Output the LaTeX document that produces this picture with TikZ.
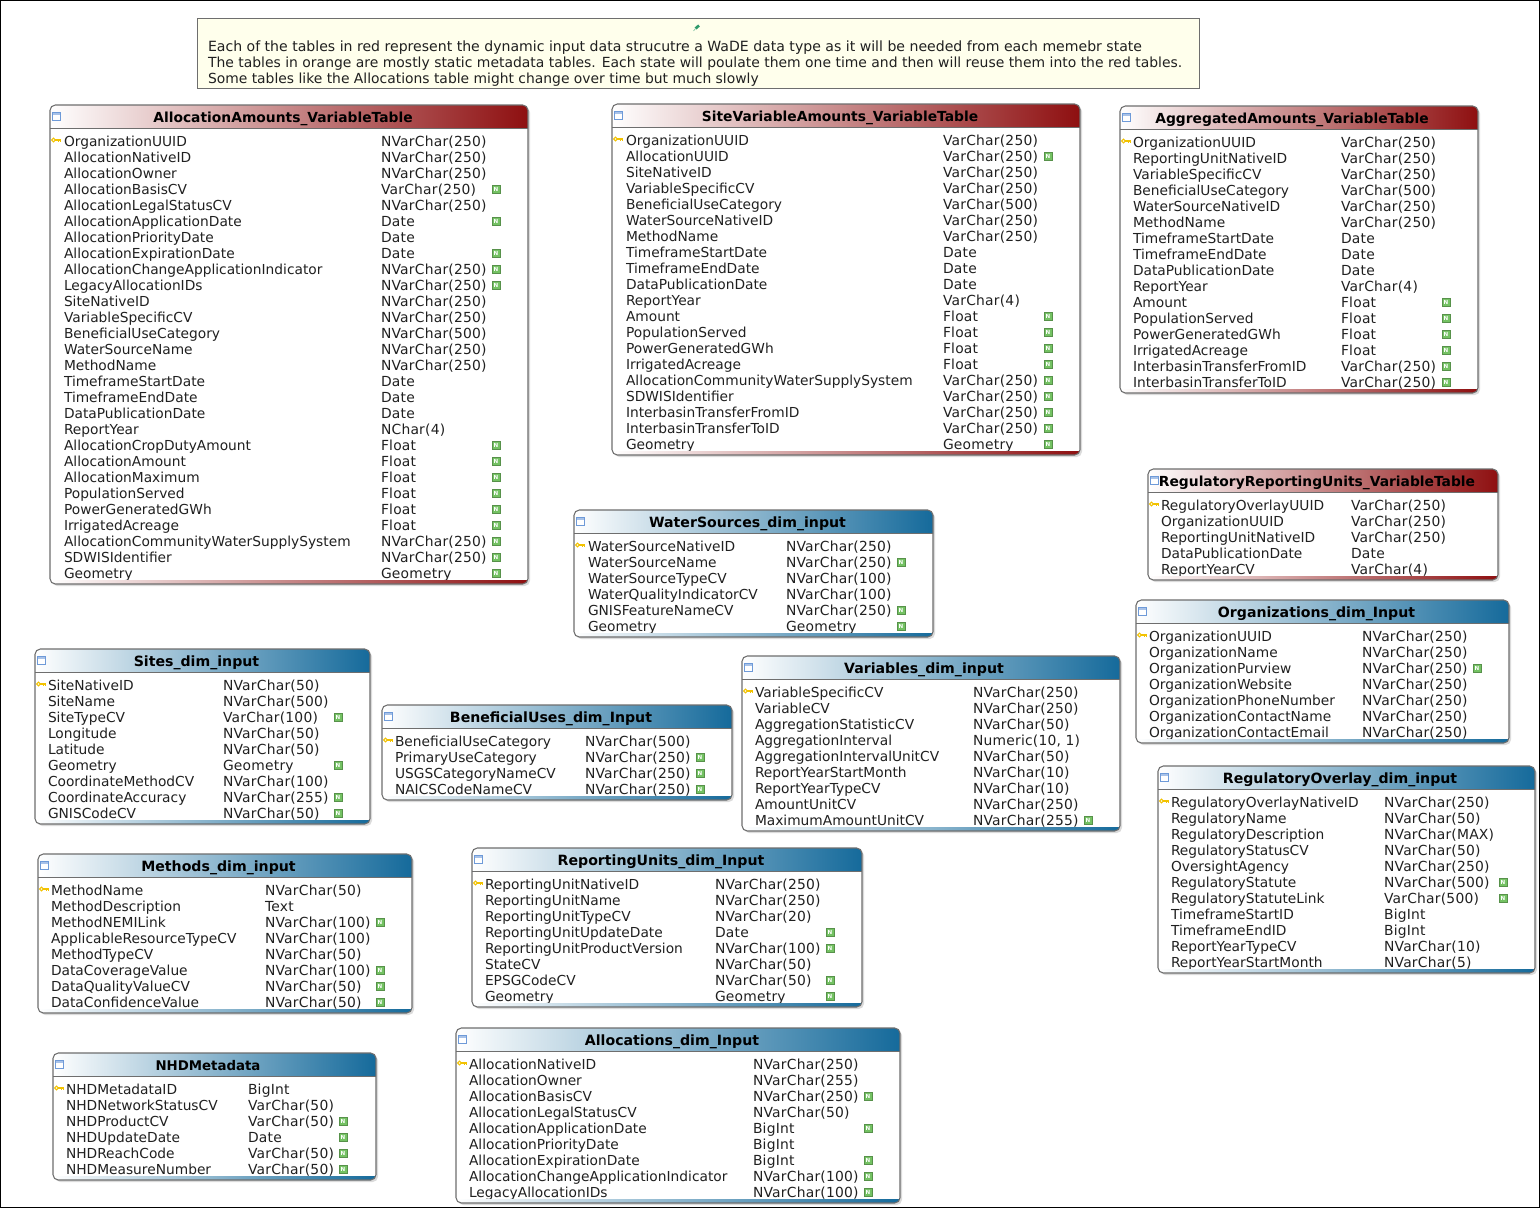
\documentclass[tikz,border=0pt]{standalone}
\usepackage{fontspec}
\setmainfont{DejaVu Sans}
\newfontfamily\typefont[LetterSpace=1.6]{DejaVu Sans}
\definecolor{redend}{HTML}{8E0F10}
\definecolor{blueend}{HTML}{156A9B}
\definecolor{edgegray}{HTML}{6E6E6E}
\definecolor{notefill}{HTML}{FFFFEC}
\definecolor{nullgreen}{HTML}{74C263}
\definecolor{keyyellow}{HTML}{F2C200}
\definecolor{iconblue}{HTML}{6E9AD8}
\definecolor{rowtext}{HTML}{202020}
\definecolor{pingreen}{HTML}{2E9A6A}
\newcommand{\bluesize}{\fontsize{10.6pt}{12pt}\selectfont\bfseries}
\tikzset{
  rowlabel/.style={anchor=base west,inner sep=0pt,outer sep=0pt,font=\fontsize{10.33pt}{12pt}\selectfont,text=rowtext},
  typelabel/.style={anchor=base west,inner sep=0pt,outer sep=0pt,font=\fontsize{10.4pt}{12pt}\selectfont\typefont,text=rowtext},
  titlelabel/.style={anchor=base,inner sep=0pt,outer sep=0pt,font=\fontsize{10.38pt}{12pt}\selectfont\bfseries,text=black},
  nulltag/.style={fill=nullgreen,draw=nullgreen!75!black,line width=.3pt,minimum size=5.6pt,inner sep=0pt,text=white,font=\fontsize{4.2pt}{4.5pt}\selectfont\bfseries},
  noteline/.style={anchor=base west,inner sep=0pt,outer sep=0pt,text=rowtext},
  tableedge/.style={draw=edgegray,line width=.8pt,rounded corners=4pt},
  tableshadow/.style={fill=black!14,rounded corners=4pt},
}
\def\parsebox#1/#2/#3/#4\relax{\def\xa{#1}\def\ya{#2}\def\xb{#3}\def\yb{#4}}
\def\parsecol#1/#2/#3\relax{\def\cola{#1}\def\colb{#2}\def\colc{#3}}
% \dbtable{id}{x0/y0/x1/y1}{col1/col2/icon}{end colour}{title}{title x}{rows}
\newcommand{\dbtable}[7]{%
  \parsebox#2\relax\parsecol#3\relax
  \fill[tableshadow] (\xa+2,\ya+2) rectangle (\xb+2,\yb+2);
  \begin{scope}
    \clip[rounded corners=4pt] (\xa,\ya) rectangle (\xb,\yb);
    \fill[white] (\xa,\ya) rectangle (\xb,\yb);
    \shade[left color=white,right color=#4] (\xa,\ya) rectangle (\xb,\ya+23);
    \draw[edgegray,line width=.6pt] (\xa,\ya+23) -- (\xb,\ya+23);
    \foreach \n/\t/\f [count=\i] in {#7} {
      \pgfmathsetmacro{\yy}{\ya+41+16*(\i-1)}
      \node[rowlabel] (#1-\i-n) at (\cola,\yy) {\n};
      \node[typelabel] (#1-\i-t) at (\colb,\yy) {\t};
      \ifnum\f=1 \node[nulltag] (#1-\i-f) at (\colc,\yy-5) {N};\fi
    }
    \shade[left color=white,right color=#4] (\xa,\yb-4) rectangle (\xb,\yb);
  \end{scope}
  \draw[tableedge] (\xa,\ya) rectangle (\xb,\yb);
  \fill[white] (\xa+2.5,\ya+7) rectangle (\xa+10,\ya+15);
  \fill[iconblue!60] (\xa+2.5,\ya+7) rectangle (\xa+10,\ya+10);
  \draw[iconblue,line width=.5pt] (\xa+2.5,\ya+7) rectangle (\xa+10,\ya+15);
  \draw[keyyellow,line width=.8pt] (\xa+3.5,\ya+35) circle (1.8);
  \draw[keyyellow,line width=.9pt] (\xa+5,\ya+35) -- (\xa+10.5,\ya+35);
  \draw[keyyellow,line width=.7pt] (\xa+8,\ya+35) -- (\xa+8,\ya+37) (\xa+10,\ya+35) -- (\xa+10,\ya+37);
  \node[titlelabel] (#1-title) at (#6,\ya+17) {#5};
}
\begin{document}
\begin{tikzpicture}[x=0.75pt,y=-0.75pt]
\useasboundingbox (0,0) rectangle (1540,1208);
\fill[white] (0,0) rectangle (1540,1208);
\draw[black,line width=.8pt] (.5,.5) rectangle (1539.5,1207.5);
% note
\node[draw=edgegray,line width=.8pt,fill=notefill,minimum width=751.5pt,minimum height=52.5pt,inner sep=0pt,anchor=north west] (note) at (197,18) {};
\draw[pingreen,line width=2pt] (695.5,28.5) -- (699,25.5);
\draw[pingreen!60,line width=.5pt] (695.5,28.5) -- (693.5,31);
\node[noteline,font=\fontsize{10.56pt}{12pt}\selectfont] (note1) at (208,51) {Each of the tables in red represent the dynamic input data strucutre a WaDE data type as it will be needed from each memebr state};
\node[noteline,font=\fontsize{10.45pt}{12pt}\selectfont] (note2) at (208,67) {The tables in orange are mostly static metadata tables. Each state will poulate them one time and then will reuse them into the red tables.};
\node[noteline,font=\fontsize{10.41pt}{12pt}\selectfont] (note3) at (208,83) {Some tables like the Allocations table might change over time but much slowly};

\dbtable{aa}{50/105/528/584}{64/381/496}{redend}{AllocationAmounts\_VariableTable}{283}{
OrganizationUUID/NVarChar(250)/0,
AllocationNativeID/NVarChar(250)/0,
AllocationOwner/NVarChar(250)/0,
AllocationBasisCV/VarChar(250)/1,
AllocationLegalStatusCV/NVarChar(250)/0,
AllocationApplicationDate/Date/1,
AllocationPriorityDate/Date/0,
AllocationExpirationDate/Date/1,
AllocationChangeApplicationIndicator/NVarChar(250)/1,
LegacyAllocationIDs/NVarChar(250)/1,
SiteNativeID/NVarChar(250)/0,
VariableSpecificCV/NVarChar(250)/0,
BeneficialUseCategory/NVarChar(500)/0,
WaterSourceName/NVarChar(250)/0,
MethodName/NVarChar(250)/0,
TimeframeStartDate/Date/0,
TimeframeEndDate/Date/0,
DataPublicationDate/Date/0,
ReportYear/NChar(4)/0,
AllocationCropDutyAmount/Float/1,
AllocationAmount/Float/1,
AllocationMaximum/Float/1,
PopulationServed/Float/1,
PowerGeneratedGWh/Float/1,
IrrigatedAcreage/Float/1,
AllocationCommunityWaterSupplySystem/NVarChar(250)/1,
SDWISIdentifier/NVarChar(250)/1,
Geometry/Geometry/1}

\dbtable{sv}{612/104/1080/455}{626/943/1048}{redend}{SiteVariableAmounts\_VariableTable}{840}{
OrganizationUUID/VarChar(250)/0,
AllocationUUID/VarChar(250)/1,
SiteNativeID/VarChar(250)/0,
VariableSpecificCV/VarChar(250)/0,
BeneficialUseCategory/VarChar(500)/0,
WaterSourceNativeID/VarChar(250)/0,
MethodName/VarChar(250)/0,
TimeframeStartDate/Date/0,
TimeframeEndDate/Date/0,
DataPublicationDate/Date/0,
ReportYear/VarChar(4)/0,
Amount/Float/1,
PopulationServed/Float/1,
PowerGeneratedGWh/Float/1,
IrrigatedAcreage/Float/1,
AllocationCommunityWaterSupplySystem/VarChar(250)/1,
SDWISIdentifier/VarChar(250)/1,
InterbasinTransferFromID/VarChar(250)/1,
InterbasinTransferToID/VarChar(250)/1,
Geometry/Geometry/1}

\dbtable{ag}{1120/106/1478/393}{1133/1341/1446}{redend}{AggregatedAmounts\_VariableTable}{1292}{
OrganizationUUID/VarChar(250)/0,
ReportingUnitNativeID/VarChar(250)/0,
VariableSpecificCV/VarChar(250)/0,
BeneficialUseCategory/VarChar(500)/0,
WaterSourceNativeID/VarChar(250)/0,
MethodName/VarChar(250)/0,
TimeframeStartDate/Date/0,
TimeframeEndDate/Date/0,
DataPublicationDate/Date/0,
ReportYear/VarChar(4)/0,
Amount/Float/1,
PopulationServed/Float/1,
PowerGeneratedGWh/Float/1,
IrrigatedAcreage/Float/1,
InterbasinTransferFromID/VarChar(250)/1,
InterbasinTransferToID/VarChar(250)/1}

\dbtable{rr}{1148/469/1498/580}{1161/1351/1466}{redend}{RegulatoryReportingUnits\_VariableTable}{1317}{
RegulatoryOverlayUUID/VarChar(250)/0,
OrganizationUUID/VarChar(250)/0,
ReportingUnitNativeID/VarChar(250)/0,
DataPublicationDate/Date/0,
ReportYearCV/VarChar(4)/0}

\dbtable{ws}{574/510/933/637}{588/786/901}{blueend}{\bluesize WaterSources\_dim\_input}{747.5}{
WaterSourceNativeID/NVarChar(250)/0,
WaterSourceName/NVarChar(250)/1,
WaterSourceTypeCV/NVarChar(100)/0,
WaterQualityIndicatorCV/NVarChar(100)/0,
GNISFeatureNameCV/NVarChar(250)/1,
Geometry/Geometry/1}

\dbtable{or}{1136/600/1509/743}{1149/1362/1477}{blueend}{\bluesize Organizations\_dim\_Input}{1316.5}{
OrganizationUUID/NVarChar(250)/0,
OrganizationName/NVarChar(250)/0,
OrganizationPurview/NVarChar(250)/1,
OrganizationWebsite/NVarChar(250)/0,
OrganizationPhoneNumber/NVarChar(250)/0,
OrganizationContactName/NVarChar(250)/0,
OrganizationContactEmail/NVarChar(250)/0}

\dbtable{si}{35/649/370/824}{48/223/338}{blueend}{\bluesize Sites\_dim\_input}{196.5}{
SiteNativeID/NVarChar(50)/0,
SiteName/NVarChar(500)/0,
SiteTypeCV/VarChar(100)/1,
Longitude/NVarChar(50)/0,
Latitude/NVarChar(50)/0,
Geometry/Geometry/1,
CoordinateMethodCV/NVarChar(100)/0,
CoordinateAccuracy/NVarChar(255)/1,
GNISCodeCV/NVarChar(50)/1}

\dbtable{be}{382/705/732/800}{395/585/700}{blueend}{\bluesize BeneficialUses\_dim\_Input}{551}{
BeneficialUseCategory/NVarChar(500)/0,
PrimaryUseCategory/NVarChar(250)/1,
USGSCategoryNameCV/NVarChar(250)/1,
NAICSCodeNameCV/NVarChar(250)/1}

\dbtable{va}{742/656/1120/831}{755/973/1088}{blueend}{\bluesize Variables\_dim\_input}{924}{
VariableSpecificCV/NVarChar(250)/0,
VariableCV/NVarChar(250)/0,
AggregationStatisticCV/NVarChar(50)/0,
AggregationInterval/{Numeric(10, 1)}/0,
AggregationIntervalUnitCV/NVarChar(50)/0,
ReportYearStartMonth/NVarChar(10)/0,
ReportYearTypeCV/NVarChar(10)/0,
AmountUnitCV/NVarChar(250)/0,
MaximumAmountUnitCV/NVarChar(255)/1}

\dbtable{ro}{1158/766/1535/973}{1171/1384/1503}{blueend}{\bluesize RegulatoryOverlay\_dim\_input}{1340}{
RegulatoryOverlayNativeID/NVarChar(250)/0,
RegulatoryName/NVarChar(50)/0,
RegulatoryDescription/NVarChar(MAX)/0,
RegulatoryStatusCV/NVarChar(50)/0,
OversightAgency/NVarChar(250)/0,
RegulatoryStatute/NVarChar(500)/1,
RegulatoryStatuteLink/VarChar(500)/1,
TimeframeStartID/BigInt/0,
TimeframeEndID/BigInt/0,
ReportYearTypeCV/NVarChar(10)/0,
ReportYearStartMonth/NVarChar(5)/0}

\dbtable{me}{38/854/412/1013}{51/265/380}{blueend}{\bluesize Methods\_dim\_input}{218.5}{
MethodName/NVarChar(50)/0,
MethodDescription/Text/0,
MethodNEMILink/NVarChar(100)/1,
ApplicableResourceTypeCV/NVarChar(100)/0,
MethodTypeCV/NVarChar(50)/0,
DataCoverageValue/NVarChar(100)/1,
DataQualityValueCV/NVarChar(50)/1,
DataConfidenceValue/NVarChar(50)/1}

\dbtable{ru}{472/848/862/1007}{485/715/830}{blueend}{\bluesize ReportingUnits\_dim\_Input}{661}{
ReportingUnitNativeID/NVarChar(250)/0,
ReportingUnitName/NVarChar(250)/0,
ReportingUnitTypeCV/NVarChar(20)/0,
ReportingUnitUpdateDate/Date/1,
ReportingUnitProductVersion/NVarChar(100)/1,
StateCV/NVarChar(50)/0,
EPSGCodeCV/NVarChar(50)/1,
Geometry/Geometry/1}

\dbtable{nh}{53/1053/376/1180}{66/248/343}{blueend}{\fontsize{10pt}{12pt}\selectfont\bfseries NHDMetadata}{208}{
NHDMetadataID/BigInt/0,
NHDNetworkStatusCV/VarChar(50)/0,
NHDProductCV/VarChar(50)/1,
NHDUpdateDate/Date/1,
NHDReachCode/VarChar(50)/1,
NHDMeasureNumber/VarChar(50)/1}

\dbtable{al}{456/1028/900/1203}{469/753/868}{blueend}{\bluesize Allocations\_dim\_Input}{672}{
AllocationNativeID/NVarChar(250)/0,
AllocationOwner/NVarChar(255)/0,
AllocationBasisCV/NVarChar(250)/1,
AllocationLegalStatusCV/NVarChar(50)/0,
AllocationApplicationDate/BigInt/1,
AllocationPriorityDate/BigInt/0,
AllocationExpirationDate/BigInt/1,
AllocationChangeApplicationIndicator/NVarChar(100)/1,
LegacyAllocationIDs/NVarChar(100)/1}
\end{tikzpicture}
\end{document}
